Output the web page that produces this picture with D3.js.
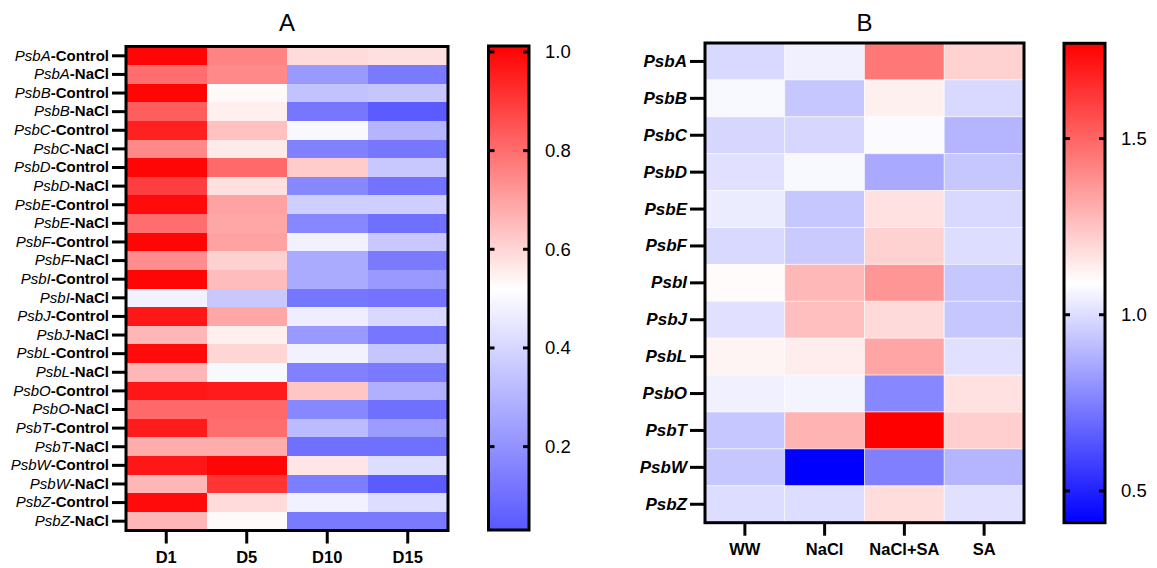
<!DOCTYPE html>
<meta charset="utf-8">
<style>
body { margin: 0; background: #fff; }
text { font-family: "Liberation Sans", Arial, sans-serif; fill: #000; }
.frame { fill: none; stroke: #000; stroke-width: 3px; }
.axis path { display: none; }
.axis line { stroke: #000; stroke-width: 3px; }
</style>
<body>
<script src="https://d3js.org/d3.v7.min.js"></script>
<script>

// ---- panel A data: relative expression per day ----
var genesA = ["PsbA", "PsbB", "PsbC", "PsbD", "PsbE", "PsbF", "PsbI", "PsbJ", "PsbL", "PsbO", "PsbT", "PsbW", "PsbZ"];
var treatA = ["Control", "NaCl"];
var daysA = ["D1", "D5", "D10", "D15"];
var valuesA = [
  [1.00, 0.76, 0.59, 0.58], [0.80, 0.75, 0.22, 0.13],
  [1.00, 0.53, 0.34, 0.35], [0.83, 0.55, 0.12, 0.04],
  [0.95, 0.64, 0.50, 0.30], [0.75, 0.56, 0.15, 0.12],
  [1.00, 0.81, 0.62, 0.36], [0.89, 0.58, 0.17, 0.11],
  [0.99, 0.70, 0.38, 0.38], [0.80, 0.69, 0.17, 0.10],
  [1.00, 0.70, 0.48, 0.36], [0.74, 0.61, 0.27, 0.13],
  [1.00, 0.65, 0.27, 0.22], [0.48, 0.36, 0.12, 0.11],
  [0.97, 0.69, 0.47, 0.41], [0.66, 0.55, 0.22, 0.12],
  [0.99, 0.60, 0.48, 0.35], [0.66, 0.50, 0.15, 0.13],
  [0.97, 0.96, 0.63, 0.29], [0.81, 0.81, 0.17, 0.10],
  [0.96, 0.80, 0.32, 0.23], [0.68, 0.68, 0.10, 0.10],
  [0.97, 1.00, 0.57, 0.42], [0.66, 0.91, 0.14, 0.04],
  [0.99, 0.59, 0.48, 0.42], [0.66, 0.53, 0.13, 0.13]
];
var ticksA = [0.2, 0.4, 0.6, 0.8, 1.0];

// ---- panel B data ----
var genesB = ["PsbA", "PsbB", "PsbC", "PsbD", "PsbE", "PsbF", "PsbI", "PsbJ", "PsbL", "PsbO", "PsbT", "PsbW", "PsbZ"];
var groupsB = ["WW", "NaCl", "NaCl+SA", "SA"];
var valuesB = [
  [0.99, 1.05, 1.45, 1.21],
  [1.07, 0.94, 1.13, 0.99],
  [0.98, 0.98, 1.08, 0.89],
  [1.01, 1.07, 0.86, 0.94],
  [1.04, 0.94, 1.17, 0.99],
  [0.99, 0.95, 1.21, 1.00],
  [1.10, 1.28, 1.37, 0.94],
  [1.01, 1.26, 1.19, 0.94],
  [1.12, 1.14, 1.33, 1.01],
  [1.05, 1.06, 0.77, 1.17],
  [0.94, 1.29, 1.77, 1.22],
  [0.94, 0.41, 0.75, 0.89],
  [1.00, 1.00, 1.18, 1.01]
];
var ticksB = [0.5, 1.0, 1.5];

var svg = d3.select("body").append("svg")
    .attr("width", 1157)
    .attr("height", 568);

// rows of panel A
var rowsA = [];
genesA.forEach(function(g) {
  treatA.forEach(function(t) { rowsA.push({gene: g, treat: t, key: g + "-" + t}); });
});

// color scales
var colorA = d3.scaleLinear().domain([0.031, 0.52, 1.012]).range(["#5858ff", "#ffffff", "#ff0000"]);
var colorB = d3.scaleLinear().domain([0.41, 1.09, 1.77]).range(["#0000ff", "#ffffff", "#ff0000"]);

function heatmap(opt) {
  var x = d3.scaleBand().domain(opt.cols).range([opt.x0, opt.x1]);
  var y = d3.scaleBand().domain(opt.rows).range([opt.y0, opt.y1]);
  var g = svg.append("g");

  opt.values.forEach(function(row, i) {
    g.selectAll(null)
      .data(row)
      .enter().append("rect")
      .attr("x", function(d, j) { return x(opt.cols[j]); })
      .attr("y", y(opt.rows[i]))
      .attr("width", x.bandwidth())
      .attr("height", y.bandwidth())
      .attr("fill", function(d) { return opt.color(d); })
      .attr("stroke", opt.cellStroke || "none")
      .attr("stroke-opacity", 0.5)
      .attr("shape-rendering", opt.cellStroke ? "auto" : "crispEdges");
  });

  g.append("rect").attr("class", "frame")
    .attr("x", opt.x0).attr("y", opt.y0)
    .attr("width", opt.x1 - opt.x0).attr("height", opt.y1 - opt.y0);

  // x axis
  var xa = g.append("g").attr("class", "axis")
      .attr("transform", "translate(0," + opt.y1 + ")")
      .call(d3.axisBottom(x).tickSize(opt.xTick).tickPadding(opt.xPad));
  xa.selectAll("text")
      .style("font-size", "16.5px").style("font-weight", "bold");

  // y axis
  var ya = g.append("g").attr("class", "axis")
      .attr("transform", "translate(" + opt.x0 + ",0)")
      .call(d3.axisLeft(y).tickSize(opt.yTick).tickPadding(3));
  ya.selectAll("text").each(opt.yLabel);

  // title
  svg.append("text")
    .attr("x", (opt.x0 + opt.x1) / 2)
    .attr("y", 30.5)
    .attr("text-anchor", "middle")
    .style("font-size", "24px")
    .text(opt.title);
}

function colorbar(opt) {
  var y = d3.scaleLinear().domain(opt.domain).range([opt.y1, opt.y0]);
  var id = "grad" + opt.title;
  var grad = svg.append("defs").append("linearGradient")
      .attr("id", id)
      .attr("x1", 0).attr("y1", 1).attr("x2", 0).attr("y2", 0);
  var dom = opt.color.domain();
  dom.forEach(function(v) {
    grad.append("stop")
      .attr("offset", (v - opt.domain[0]) / (opt.domain[1] - opt.domain[0]))
      .attr("stop-color", opt.color(v));
  });

  var g = svg.append("g");
  g.append("rect")
    .attr("x", opt.x0).attr("y", opt.y0)
    .attr("width", opt.x1 - opt.x0).attr("height", opt.y1 - opt.y0)
    .attr("fill", "url(#" + id + ")");

  // inner tick marks on both edges
  g.selectAll(null).data(opt.ticks).enter().append("line")
    .attr("x1", opt.x0).attr("x2", opt.x0 + 6)
    .attr("y1", y).attr("y2", y)
    .attr("stroke", "#000").attr("stroke-width", 3);
  g.selectAll(null).data(opt.ticks).enter().append("line")
    .attr("x1", opt.x1 - 6).attr("x2", opt.x1)
    .attr("y1", y).attr("y2", y)
    .attr("stroke", "#000").attr("stroke-width", 3);

  g.append("rect").attr("class", "frame")
    .attr("x", opt.x0).attr("y", opt.y0)
    .attr("width", opt.x1 - opt.x0).attr("height", opt.y1 - opt.y0);

  g.append("g").attr("class", "axis")
    .attr("transform", "translate(" + opt.x1 + ",0)")
    .call(d3.axisRight(y).tickValues(opt.ticks).tickFormat(d3.format(".1f")).tickSize(0).tickPadding(16))
    .selectAll("text").style("font-size", "18.5px");
}

// panel A
heatmap({
  title: "A",
  cols: daysA,
  rows: rowsA.map(function(r) { return r.key; }),
  values: valuesA,
  color: colorA,
  x0: 126, x1: 448, y0: 46.5, y1: 530.5,
  xTick: 13, xPad: 8, yTick: 14,
  yLabel: function(d) {
    var parts = d.split("-");
    var t = d3.select(this).text(null).style("font-size", "15px");
    t.append("tspan").style("font-style", "italic").text(parts[0]);
    t.append("tspan").style("font-weight", "bold").text("-" + parts[1]);
  }
});

colorbar({
  title: "A",
  color: colorA,
  domain: [0.031, 1.012],
  ticks: ticksA,
  x0: 488.5, x1: 529, y0: 46, y1: 530
});

// panel B
heatmap({
  title: "B",
  cols: groupsB,
  rows: genesB,
  values: valuesB,
  color: colorB,
  cellStroke: "#fff",
  x0: 705, x1: 1024, y0: 43, y1: 522.7,
  xTick: 13, xPad: 8, yTick: 15,
  yLabel: function(d) {
    d3.select(this)
      .style("font-size", "17px")
      .style("font-weight", "bold")
      .style("font-style", "italic");
  }
});

colorbar({
  title: "B",
  color: colorB,
  domain: [0.41, 1.77],
  ticks: ticksB,
  x0: 1064, x1: 1105, y0: 43.3, y1: 522.7
});

</script>
</body>
